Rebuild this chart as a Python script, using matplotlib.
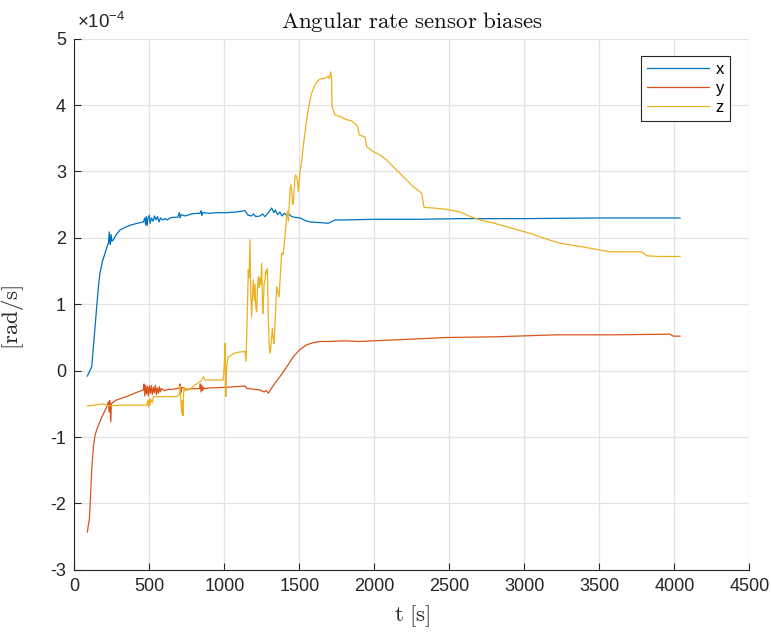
import matplotlib

matplotlib.use("Agg")
import matplotlib.pyplot as plt

plt.rcParams["font.family"] = ["Liberation Sans", "DejaVu Sans"]
plt.rcParams["mathtext.fontset"] = "cm"
plt.rcParams["axes.unicode_minus"] = False

# bias values are in units of 1e-4 rad/s
t_x = [87, 100, 116, 127, 138, 149, 160, 171, 188, 205, 220, 227, 233, 237, 240, 245, 250, 260,
       280, 305, 340, 371, 420, 460, 470, 475, 480, 485, 490, 500, 505, 515, 525, 535, 545, 555,
       565, 575, 590, 605, 620, 638, 660, 690, 700, 705, 712, 740, 780, 820, 838, 845, 850, 855,
       900, 950, 1016, 1080, 1138, 1149, 1160, 1180, 1195, 1210, 1238, 1255, 1270, 1290, 1316,
       1330, 1340, 1355, 1370, 1385, 1400, 1416, 1430, 1450, 1470, 1505, 1540, 1571, 1638, 1693,
       1738, 1800, 1993, 2300, 2571, 3000, 3500, 4038]
bias_x = [-0.08, -0.02, 0.06, 0.36, 0.65, 0.96, 1.25, 1.47, 1.65, 1.77, 1.88, 1.92, 2.09, 1.95,
          1.90, 2.05, 1.95, 1.97, 2.05, 2.12, 2.16, 2.19, 2.22, 2.24, 2.30, 2.20, 2.32, 2.18, 2.28,
          2.34, 2.22, 2.30, 2.25, 2.33, 2.27, 2.32, 2.24, 2.30, 2.27, 2.29, 2.27, 2.30, 2.31, 2.31,
          2.38, 2.30, 2.35, 2.33, 2.36, 2.37, 2.37, 2.41, 2.34, 2.38, 2.37, 2.38, 2.38, 2.39, 2.41,
          2.37, 2.34, 2.33, 2.36, 2.32, 2.33, 2.36, 2.32, 2.37, 2.45, 2.38, 2.42, 2.35, 2.39, 2.33,
          2.37, 2.34, 2.36, 2.32, 2.31, 2.30, 2.26, 2.24, 2.23, 2.22, 2.27, 2.27, 2.28, 2.28, 2.29,
          2.29, 2.30, 2.30]

t_y = [87, 95, 100, 108, 116, 127, 138, 149, 165, 183, 205, 220, 227, 232, 236, 243, 247, 255,
       283, 320, 349, 400, 460, 465, 470, 476, 482, 488, 494, 500, 507, 513, 520, 527, 533, 540,
       547, 553, 560, 567, 573, 580, 600, 630, 660, 700, 705, 710, 715, 750, 800, 835, 840, 845,
       850, 856, 862, 870, 900, 1016, 1080, 1138, 1150, 1160, 1200, 1238, 1265, 1280, 1293, 1310,
       1340, 1371, 1420, 1460, 1500, 1549, 1590, 1638, 1700, 1800, 1900, 1993, 2200, 2482, 2800,
       3216, 3600, 3971, 3993, 4038]
bias_y = [-2.43, -2.30, -2.25, -1.90, -1.50, -1.14, -0.98, -0.89, -0.80, -0.70, -0.60, -0.52,
          -0.47, -0.62, -0.45, -0.77, -0.50, -0.48, -0.44, -0.41, -0.39, -0.34, -0.29, -0.20,
          -0.38, -0.22, -0.35, -0.24, -0.38, -0.23, -0.34, -0.22, -0.36, -0.25, -0.33, -0.22,
          -0.36, -0.26, -0.34, -0.24, -0.32, -0.27, -0.30, -0.28, -0.28, -0.26, -0.20, -0.33,
          -0.25, -0.28, -0.27, -0.27, -0.20, -0.32, -0.22, -0.30, -0.25, -0.27, -0.26, -0.25,
          -0.24, -0.23, -0.27, -0.27, -0.28, -0.29, -0.32, -0.30, -0.34, -0.28, -0.18, -0.09,
          0.07, 0.21, 0.31, 0.39, 0.42, 0.44, 0.44, 0.45, 0.44, 0.45, 0.47, 0.50, 0.51, 0.54,
          0.54, 0.55, 0.52, 0.52]

t_z = [87, 130, 193, 215, 238, 300, 400, 483, 490, 495, 500, 505, 510, 520, 527, 560, 620, 683,
       700, 705, 710, 716, 720, 724, 728, 733, 740, 771, 800, 830, 850, 860, 871, 920, 993, 1000,
       1005, 1008, 1010, 1015, 1022, 1027, 1040, 1060, 1100, 1138, 1145, 1152, 1160, 1165, 1171,
       1176, 1182, 1187, 1193, 1200, 1205, 1210, 1216, 1222, 1227, 1232, 1238, 1243, 1249, 1256,
       1262, 1265, 1271, 1276, 1280, 1287, 1293, 1300, 1305, 1310, 1320, 1325, 1331, 1340, 1349,
       1355, 1365, 1375, 1382, 1393, 1405, 1416, 1421, 1427, 1438, 1444, 1449, 1455, 1460, 1470,
       1475, 1482, 1487, 1493, 1505, 1516, 1530, 1549, 1565, 1582, 1600, 1616, 1630, 1649, 1665,
       1680, 1693, 1700, 1705, 1709, 1715, 1718, 1728, 1738, 1770, 1816, 1850, 1882, 1890, 1900,
       1938, 1949, 1970, 1993, 2038, 2083, 2127, 2171, 2193, 2230, 2260, 2290, 2316, 2325, 2331,
       2393, 2482, 2571, 2640, 2705, 2800, 2927, 3050, 3150, 3238, 3400, 3571, 3783, 3800, 3816,
       3900, 4038]
bias_z = [-0.53, -0.52, -0.50, -0.52, -0.53, -0.52, -0.52, -0.52, -0.45, -0.55, -0.42, -0.52,
          -0.43, -0.48, -0.39, -0.39, -0.39, -0.39, -0.36, -0.23, -0.45, -0.64, -0.45, -0.68,
          -0.35, -0.25, -0.30, -0.28, -0.22, -0.18, -0.14, -0.09, -0.14, -0.14, -0.14, 0.10,
          0.41, -0.20, -0.39, 0.05, 0.16, 0.21, 0.22, 0.26, 0.28, 0.29, 0.14, 0.80, 1.52, 1.40,
          1.97, 1.20, 0.81, 1.10, 1.37, 1.05, 1.30, 0.95, 0.89, 1.30, 1.42, 1.25, 1.40, 1.30,
          1.62, 0.86, 1.10, 1.30, 1.37, 1.50, 1.45, 1.54, 0.80, 0.35, 0.26, 0.35, 0.64, 0.50,
          0.41, 0.80, 1.26, 1.20, 1.11, 1.50, 1.77, 1.75, 2.05, 2.32, 2.40, 2.25, 2.72, 2.80,
          2.72, 2.50, 2.52, 2.90, 2.95, 2.92, 2.87, 2.70, 3.00, 3.17, 3.45, 3.78, 4.00, 4.18,
          4.28, 4.35, 4.38, 4.40, 4.40, 4.42, 4.43, 4.40, 4.45, 4.50, 4.40, 3.98, 3.92, 3.85,
          3.83, 3.78, 3.76, 3.70, 3.66, 3.55, 3.52, 3.37, 3.34, 3.30, 3.25, 3.17, 3.07, 2.97,
          2.92, 2.84, 2.77, 2.72, 2.67, 2.55, 2.46, 2.45, 2.43, 2.39, 2.32, 2.27, 2.22, 2.14,
          2.06, 1.98, 1.92, 1.86, 1.79, 1.79, 1.76, 1.73, 1.72, 1.72]

x_ticks = [0, 500, 1000, 1500, 2000, 2500, 3000, 3500, 4000, 4500]
y_ticks = [-3, -2, -1, 0, 1, 2, 3, 4, 5]

fig = plt.figure(figsize=(7.71, 6.33), dpi=100)
ax = fig.add_axes([0.0964, 0.0997, 0.8755, 0.8392])

ax.plot(t_x, bias_x, color="#0072BD", linewidth=0.9, label="x")
ax.plot(t_y, bias_y, color="#D95319", linewidth=0.9, label="y")
ax.plot(t_z, bias_z, color="#EDB120", linewidth=0.9, label="z")

ax.set_xlim(0, 4500)
ax.set_ylim(-3, 5)
ax.set_xticks(x_ticks)
ax.set_yticks(y_ticks)
ax.grid(True, color="#E3E3E3", linewidth=0.9)
ax.set_axisbelow(True)

for side in ["top", "right"]:
    ax.spines[side].set_visible(False)
for side in ["left", "bottom"]:
    ax.spines[side].set_color("#262626")
    ax.spines[side].set_linewidth(0.8)
ax.tick_params(direction="in", length=5, width=0.8, colors="#262626", labelsize=13, pad=6)

ax.set_title(r"$\mathrm{Angular\ rate\ sensor\ biases}$", fontsize=16.5, color="#111111", pad=8)
ax.set_xlabel(r"$\mathrm{t\ [s]}$", fontsize=16.5, color="#262626", labelpad=6)
ax.set_ylabel(r"$\mathrm{[rad/s]}$", fontsize=16.5, color="#262626")
ax.yaxis.set_label_coords(-0.071, 0.476)
# offset text drawn by hand, MATLAB style
ax.text(0.004, 1.012, "\u00d7" + r"$\mathregular{10^{-4}}$", transform=ax.transAxes,
        fontsize=13.5, color="#262626", ha="left", va="bottom")

leg = ax.legend(loc="upper right", bbox_to_anchor=(0.971, 0.968), borderaxespad=0,
                fancybox=False, framealpha=1, edgecolor="#262626", fontsize=12,
                handlelength=3.7, handletextpad=0.4, labelspacing=0.25, borderpad=0.35)
leg.get_frame().set_linewidth(0.8)

fig.savefig("out.png", dpi=100, facecolor="white")
